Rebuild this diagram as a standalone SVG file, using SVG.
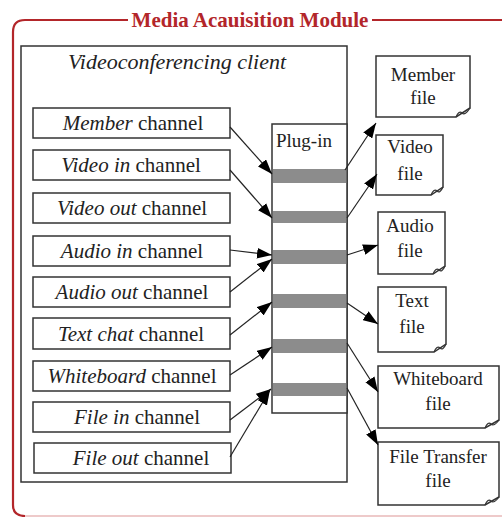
<svg xmlns="http://www.w3.org/2000/svg" width="502" height="517" viewBox="0 0 502 517">
<style>
text{font-family:"Liberation Serif","Times New Roman",serif;fill:#222}
.box{fill:#fff;stroke:#333;stroke-width:1.5}
.ch{font-size:21px;text-anchor:middle}
.it{font-style:italic}
.ft{font-size:19px;text-anchor:middle}
.bar{fill:#8c8c8c}
.con{stroke:#222;stroke-width:1.2;fill:none;marker-end:url(#ah)}
.frame{fill:none;stroke:#b3262a;stroke-width:2.2}
</style>
<defs>
<marker id="ah" viewBox="0 0 14 10" refX="14" refY="5" markerWidth="15" markerHeight="11" markerUnits="userSpaceOnUse" orient="auto">
<path d="M0,0 L14,5 L0,10 Z" fill="#000"/>
</marker>
</defs>
<rect width="502" height="517" fill="#fff"/>
<g id="frame">
<path class="frame" d="M128,20 H25 Q13,20 13,32 V505 Q13,516 25,516"/>
<path class="frame" d="M372,20 H502"/>
<path d="M25,516 H502" stroke="#e9b9b9" stroke-width="1.5"/>
<text x="250" y="27" text-anchor="middle" style="font-size:21px;font-weight:bold;fill:#b3262a">Media Acauisition Module</text>
</g>
<g id="client">
<rect class="box" x="21" y="46" width="326" height="436"/>
<text x="68" y="69" class="it" style="font-size:22px">Videoconferencing client</text>
</g>
<g id="ch-member"><rect class="box" x="33" y="108" width="197" height="30"/><text class="ch" x="133" y="130"><tspan class="it">Member</tspan> channel</text></g>
<g id="ch-videoin"><rect class="box" x="33" y="150" width="197" height="30"/><text class="ch" x="131" y="172"><tspan class="it">Video in</tspan> channel</text></g>
<g id="ch-videoout"><rect class="box" x="33" y="193" width="197" height="30"/><text class="ch" x="132" y="215"><tspan class="it">Video out</tspan> channel</text></g>
<g id="ch-audioin"><rect class="box" x="33" y="236" width="197" height="30"/><text class="ch" x="132" y="258"><tspan class="it">Audio in</tspan> channel</text></g>
<g id="ch-audioout"><rect class="box" x="33" y="277" width="197" height="30"/><text class="ch" x="132" y="299"><tspan class="it">Audio out</tspan> channel</text></g>
<g id="ch-textchat"><rect class="box" x="33" y="318" width="197" height="31"/><text class="ch" x="131" y="341"><tspan class="it">Text chat</tspan> channel</text></g>
<g id="ch-whiteboard"><rect class="box" x="33" y="361" width="197" height="30"/><text class="ch" x="132" y="383"><tspan class="it">Whiteboard</tspan> channel</text></g>
<g id="ch-filein"><rect class="box" x="33" y="402" width="197" height="30"/><text class="ch" x="137" y="424"><tspan class="it">File in</tspan> channel</text></g>
<g id="ch-fileout"><rect class="box" x="34" y="443" width="197" height="30"/><text class="ch" x="141" y="465"><tspan class="it">File out</tspan> channel</text></g>
<g id="plugin">
<rect class="box" x="272" y="124" width="75" height="289"/>
<rect class="bar" x="273" y="169" width="73" height="14"/>
<rect class="bar" x="273" y="211" width="73" height="12"/>
<rect class="bar" x="273" y="250" width="73" height="14"/>
<rect class="bar" x="273" y="294" width="73" height="14"/>
<rect class="bar" x="273" y="339" width="73" height="14"/>
<rect class="bar" x="273" y="383" width="73" height="13"/>
<text x="276" y="147" style="font-size:19px">Plug-in</text>
</g>
<g id="f-member"><path class="box" d="M376,56 H470 V108 L456,117 H376 Z"/><path d="M456,117 Q459,110 462,113 Q465,116 470,108" fill="none" stroke="#333" stroke-width="1.2"/><text class="ft" x="423" y="81">Member</text><text class="ft" x="423" y="104">file</text></g>
<g id="f-video"><path class="box" d="M376,135 H443 V187 L431,195 H376 Z"/><path d="M431,195 Q434,188 437,191 Q440,194 443,187" fill="none" stroke="#333" stroke-width="1.2"/><text class="ft" x="410" y="153">Video</text><text class="ft" x="410" y="180">file</text></g>
<g id="f-audio"><path class="box" d="M378,212 H445 V266 L433,274 H378 Z"/><path d="M433,274 Q436,267 439,270 Q442,273 445,266" fill="none" stroke="#333" stroke-width="1.2"/><text class="ft" x="410" y="232">Audio</text><text class="ft" x="410" y="257">file</text></g>
<g id="f-text"><path class="box" d="M378,287 H446 V344 L434,352 H378 Z"/><path d="M434,352 Q437,345 440,348 Q443,351 446,344" fill="none" stroke="#333" stroke-width="1.2"/><text class="ft" x="412" y="307">Text</text><text class="ft" x="412" y="333">file</text></g>
<g id="f-whiteboard"><path class="box" d="M378,366 H499 V420 L485,428 H378 Z"/><path d="M485,428 Q488,421 491,424 Q494,427 499,420" fill="none" stroke="#333" stroke-width="1.2"/><text class="ft" x="438" y="385">Whiteboard</text><text class="ft" x="438" y="410">file</text></g>
<g id="f-transfer"><path class="box" d="M378,442 H499 V497 L485,505 H378 Z"/><path d="M485,505 Q488,498 491,501 Q494,504 499,497" fill="none" stroke="#333" stroke-width="1.2"/><text class="ft" x="438" y="463">File Transfer</text><text class="ft" x="438" y="487">file</text></g>
<g id="connectors">
<line class="con" x1="230" y1="127" x2="272" y2="174"/>
<line class="con" x1="230" y1="170" x2="272" y2="218"/>
<line class="con" x1="230" y1="250" x2="272" y2="255"/>
<line class="con" x1="230" y1="292" x2="272" y2="259"/>
<line class="con" x1="230" y1="335" x2="272" y2="302"/>
<line class="con" x1="230" y1="375" x2="272" y2="347"/>
<line class="con" x1="230" y1="420" x2="271" y2="389"/>
<line class="con" x1="230" y1="457" x2="270" y2="390"/>
<line class="con" x1="345" y1="170" x2="376" y2="123"/>
<line class="con" x1="347" y1="218" x2="377" y2="174"/>
<line class="con" x1="347" y1="255" x2="378" y2="245"/>
<line class="con" x1="347" y1="303" x2="378" y2="324"/>
<line class="con" x1="347" y1="343" x2="378" y2="392"/>
<line class="con" x1="347" y1="388" x2="378" y2="445"/>
</g>
</svg>
